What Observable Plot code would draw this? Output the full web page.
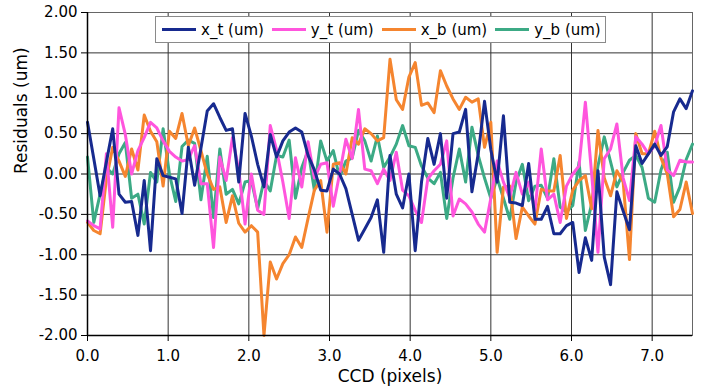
<!DOCTYPE html>
<html><head><meta charset="utf-8">
<script src="https://cdn.jsdelivr.net/npm/d3@7"></script>
<script src="https://cdn.jsdelivr.net/npm/@observablehq/plot@0.6"></script>
<style>
body{margin:0;background:#fff;}
#wrap{position:relative;width:717px;height:392px;font-family:"DejaVu Sans",sans-serif;}
#legend{position:absolute;left:155px;top:16px;width:451px;height:27px;border:1px solid #8a8a8a;background:#fff;box-sizing:border-box;display:flex;align-items:center;font-size:15px;padding-left:6px;color:#000;}
.item{display:flex;align-items:center;margin-right:8px;white-space:nowrap;}
.sw{width:34px;height:3px;margin-right:5px;}
</style></head><body><div id="wrap"></div>
<script>
const seriesNames = ["x_t (um)", "y_t (um)", "x_b (um)", "y_b (um)"];
const seriesColors = ["#172a8f", "#ff55dd", "#f5852f", "#3caa85"];
const xStep = 0.078125; // sample spacing along CCD (pixels)
const xTicks = [0, 1, 2, 3, 4, 5, 6, 7];
const yTicks = [-2, -1.5, -1, -0.5, 0, 0.5, 1, 1.5, 2];

const xt = [0.64,0.19,-0.27,0.15,0.56,-0.25,-0.35,-0.34,-0.76,-0.08,-0.95,0.19,-0.02,-0.04,-0.06,-0.49,0.33,-0.14,0.32,0.78,
0.87,0.70,0.54,0.56,-0.10,0.75,0.47,0.12,-0.16,0.49,0.21,0.41,0.52,0.57,0.52,0.23,0.05,-0.20,-0.21,0.06,
0.0,-0.18,-0.50,-0.82,-0.68,-0.54,-0.32,-0.97,0.23,-0.25,-0.42,0.0,-0.95,-0.10,0.44,0.12,0.50,-0.30,0.50,0.52,
0.80,-0.22,0.25,0.90,0.30,-0.10,0.72,-0.35,-0.36,-0.39,0.13,-0.56,-0.56,-0.40,-0.74,-0.74,-0.64,-0.60,-1.22,-0.79,
-1.07,0.04,-1.03,-1.37,-0.22,-0.46,-0.69,0.35,0.13,0.25,0.37,0.23,0.34,0.77,0.93,0.81,1.03];
const yt = [-0.58,-0.64,-0.68,0.25,-0.66,0.82,0.49,0.0,0.29,0.45,0.64,0.57,0.41,0.28,0.21,0.16,0.18,0.35,-0.12,-0.12,
-0.91,0.21,-0.08,0.45,0.05,-0.62,0.0,-0.45,-0.5,0.6,0.3,-0.1,-0.55,0.2,-0.16,0.4,-0.05,0.12,0.14,-0.4,
0.0,0.43,0.19,0.8,0.06,0.04,-0.12,0.06,-0.08,0.27,-0.2,-0.27,-0.45,-0.6,-0.06,0.04,0.12,0.41,-0.52,-0.31,
-0.37,-0.47,-0.62,-0.72,-0.3,0.16,-0.1,-0.29,0.02,-0.25,-0.1,-0.45,0.31,-0.32,-0.25,-0.6,-0.15,0.0,0.1,0.89,
0.0,-0.97,0.19,0.31,0.62,-0.05,-0.33,0.46,0.37,0.25,0.35,0.6,0.05,-0.02,0.17,0.15,0.15];
const xb = [-0.6,-0.7,-0.74,-0.06,0.33,0.16,-0.03,0.31,0.05,0.73,0.53,0.4,-0.15,0.53,0.44,0.75,0.35,0.57,0.29,0.0,
-0.19,-0.16,-0.6,-0.27,-0.61,-0.72,-0.64,-0.72,-2.0,-1.09,-1.3,-1.11,-1.0,-0.78,-0.91,-0.55,-0.2,-0.08,-0.72,0.12,
0.14,0.0,0.45,0.37,0.56,0.5,0.41,0.45,1.42,0.92,0.8,1.2,1.38,0.85,0.88,0.76,1.28,1.09,0.93,0.8,
0.95,0.89,0.93,0.33,0.64,-0.97,-0.16,-0.15,-0.8,-0.41,-0.52,-0.62,-0.19,-0.21,-0.21,0.23,-0.55,-0.2,-0.08,-0.02,
-0.43,0.54,-0.05,-0.27,0.04,-0.1,-1.06,0.5,0.25,0.25,0.53,0.2,0.0,-0.53,-0.44,-0.1,-0.49];
const yb = [0.21,-0.6,-0.25,0.08,0.0,0.25,0.39,-0.3,-0.25,-0.62,0.02,-0.1,0.56,0.0,-0.34,0.34,0.42,0.38,-0.32,0.22,
-0.54,0.31,-0.25,-0.19,-0.37,-0.1,-0.08,-0.43,-0.08,-0.21,0.23,0.21,0.42,-0.3,0.08,0.29,-0.2,0.41,0.16,0.29,
-0.04,0.16,0.2,0.54,0.41,0.16,0.47,0.08,0.21,0.37,0.6,0.35,0.33,0.1,-0.05,-0.12,0.02,-0.55,-0.05,0.31,
-0.1,0.58,0.23,-0.05,-0.3,-0.05,-0.3,-0.56,-0.1,0.12,-0.33,-0.15,-0.14,-0.3,0.19,-0.41,-0.47,-0.39,0.15,-0.7,
-0.37,0.1,0.46,0.15,-0.16,0.02,0.17,0.23,0.08,-0.3,-0.35,0.05,0.27,-0.35,-0.16,0.18,0.37];

const seriesValues = [xt, yt, xb, yb];
const rows = seriesValues.map((vals, k) => vals.map((v, i) => ({x: i * xStep, v, s: seriesNames[k]})));

const lineMarks = [3, 2, 1, 0].map(k => Plot.line(rows[k], {x: "x", y: "v", stroke: seriesColors[k], strokeWidth: 3, strokeLinejoin: "round"}));

const chart = Plot.plot({
  width: 717, height: 392,
  marginLeft: 87, marginRight: 25, marginTop: 12, marginBottom: 57,
  style: {fontFamily: "DejaVu Sans, sans-serif", fontSize: "15px", color: "#000", background: "#fff", overflow: "visible"},
  x: {domain: [0, 7.5]},
  y: {domain: [-2, 2]},
  marks: [
    Plot.gridX(xTicks, {stroke: "#333", strokeOpacity: 1, strokeWidth: 1}),
    Plot.gridY(yTicks, {stroke: "#333", strokeOpacity: 1, strokeWidth: 1}),
    Plot.frame({stroke: "#666"}),
    ...lineMarks,
    Plot.ruleX([0], {stroke: "#000", strokeWidth: 1.5}),
    Plot.ruleY([-2], {stroke: "#000", strokeWidth: 1.5}),
    Plot.axisX(xTicks, {tickFormat: d => d.toFixed(1), tickSize: 6, tickPadding: 9, label: null}),
    Plot.axisY(yTicks, {tickFormat: d => d.toFixed(2), tickSize: 6, tickPadding: 4, label: null}),
    Plot.text(["CCD (pixels)"], {text: d => d, frameAnchor: "bottom", dy: 46, fontSize: 17}),
    Plot.text(["Residuals (um)"], {text: d => d, frameAnchor: "left", dx: -66, rotate: -90, fontSize: 17})
  ]
});

const wrap = document.getElementById("wrap");
wrap.appendChild(chart);
const legend = document.createElement("div");
legend.id = "legend";
seriesNames.forEach((name, k) => {
  const item = document.createElement("div");
  item.className = "item";
  const sw = document.createElement("div");
  sw.className = "sw";
  sw.style.background = seriesColors[k];
  const label = document.createElement("span");
  label.textContent = name;
  item.appendChild(sw);
  item.appendChild(label);
  legend.appendChild(item);
});
wrap.appendChild(legend);
</script>
</body></html>
